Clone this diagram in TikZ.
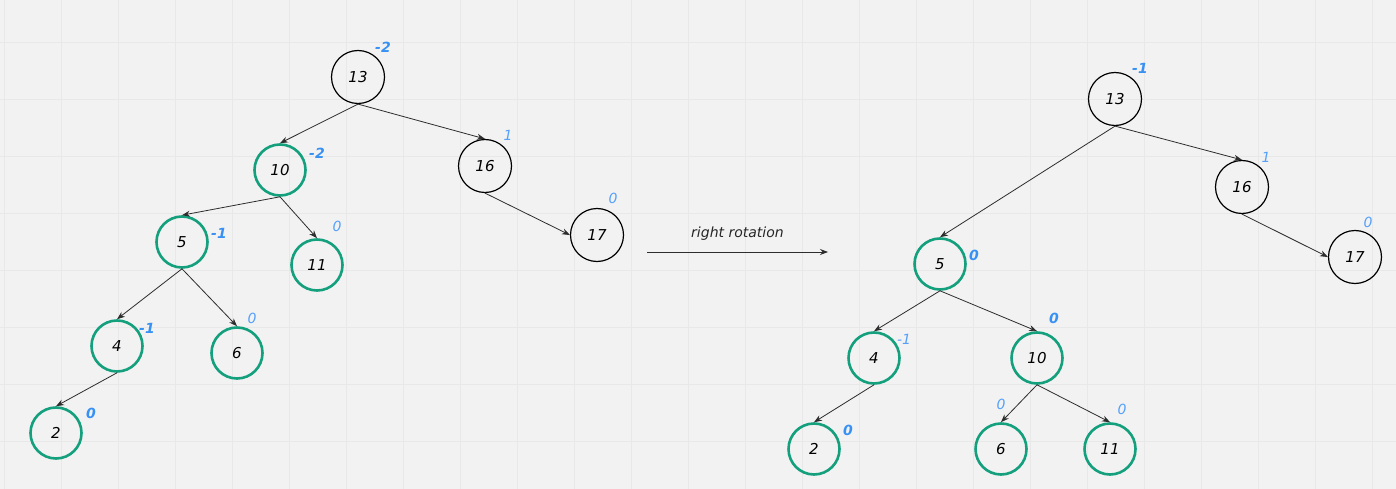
\documentclass[tikz,border=0pt]{standalone}
\usepackage{xcolor}
\usepackage{fontspec}
\setmainfont{DejaVu Sans}
\usepackage{tikz}
\usetikzlibrary{arrows.meta}
\definecolor{paper}{RGB}{242,242,242}
\definecolor{gridgray}{RGB}{232,232,232}
\definecolor{avlgreen}{RGB}{20,160,125}
\definecolor{balblue}{RGB}{55,145,245}
\definecolor{balblue2}{RGB}{85,160,250}
\definecolor{edgegray}{RGB}{45,45,45}

\begin{document}
\begin{tikzpicture}[x=1pt, y=-1pt,
    keynode/.style={draw=black, circle, line width=1.2pt, minimum size=53pt, inner sep=0pt,
        font=\fontsize{15}{17}\selectfont\itshape},
    greennode/.style={keynode, draw=avlgreen, line width=2.6pt, minimum size=51pt},
    bal/.style={text=balblue, font=\fontsize{14}{16}\selectfont\bfseries\itshape, inner sep=0pt},
    balthin/.style={text=balblue2, font=\fontsize{14}{16}\selectfont\itshape, inner sep=0pt},
    edge/.style={draw=edgegray, line width=0.8pt, -{Stealth[length=8pt,width=6pt]}}]
    % background and grid
    \fill[paper] (0,0) rectangle (1396,489);
    \useasboundingbox (0,0) rectangle (1396,489);
    \foreach \gx in {4,61,...,1396} \draw[gridgray, line width=0.8pt] (\gx,0) -- (\gx,489);
    \foreach \gy in {42.5,99.5,...,489} \draw[gridgray, line width=0.8pt] (0,\gy) -- (1396,\gy);

    % tree before the rotation
    \node[keynode] (l13) at (358,77) {13};
    \node[greennode] (l10) at (280,170) {10};
    \node[keynode] (l16) at (485,166) {16};
    \node[greennode] (l5) at (182,242) {5};
    \node[greennode] (l11) at (317,265) {11};
    \node[keynode] (l17) at (597,235) {17};
    \node[greennode] (l4) at (117,346) {4};
    \node[greennode] (l6) at (237,353) {6};
    \node[greennode] (l2) at (56,433) {2};

    \node[bal] (l13b) at (383,47) {-2};
    \node[bal] (l10b) at (317,153) {-2};
    \node[balthin] (l16b) at (508,135) {1};
    \node[bal] (l5b) at (219,233) {-1};
    \node[balthin] (l11b) at (337,226) {0};
    \node[balthin] (l17b) at (613,198) {0};
    \node[bal] (l4b) at (147,328) {-1};
    \node[balthin] (l6b) at (252,318) {0};
    \node[bal] (l2b) at (91,413) {0};

    \draw[edge] (l13.south) -- (l10.north);
    \draw[edge] (l13.south) -- (l16.north);
    \draw[edge] (l10.south) -- (l5.north);
    \draw[edge] (l10.south) -- (l11.north);
    \draw[edge] (l16.south) -- (l17.west);
    \draw[edge] (l5.south) -- (l4.north);
    \draw[edge] (l5.south) -- (l6.north);
    \draw[edge] (l4.south) -- (l2.north);

    % rotation arrow
    \coordinate (rotfrom) at (647,252);
    \coordinate (rotto) at (828,252);
    \draw[edge] (rotfrom) -- node[above=8pt, font=\fontsize{14}{16}\selectfont\itshape, text=black!85] (rotlabel) {right rotation} (rotto);

    % tree after the rotation
    \node[keynode] (r13) at (1115,99) {13};
    \node[keynode] (r16) at (1242,187) {16};
    \node[keynode] (r17) at (1355,257) {17};
    \node[greennode] (r5) at (940,264) {5};
    \node[greennode] (r4) at (874,358) {4};
    \node[greennode] (r10) at (1037,358) {10};
    \node[greennode] (r2) at (814,449) {2};
    \node[greennode] (r6) at (1001,449) {6};
    \node[greennode] (r11) at (1110,449) {11};

    \node[bal] (r13b) at (1140,68) {-1};
    \node[balthin] (r16b) at (1266,157) {1};
    \node[balthin] (r17b) at (1368,222) {0};
    \node[bal] (r5b) at (974,255) {0};
    \node[balthin] (r4b) at (904,339) {-1};
    \node[bal] (r10b) at (1054,318) {0};
    \node[bal] (r2b) at (848,430) {0};
    \node[balthin] (r6b) at (1001,404) {0};
    \node[balthin] (r11b) at (1122,409) {0};

    \draw[edge] (r13.south) -- (r5.north);
    \draw[edge] (r13.south) -- (r16.north);
    \draw[edge] (r16.south) -- (r17.west);
    \draw[edge] (r5.south) -- (r4.north);
    \draw[edge] (r5.south) -- (r10.north);
    \draw[edge] (r4.south) -- (r2.north);
    \draw[edge] (r10.south) -- (r6.north);
    \draw[edge] (r10.south) -- (r11.north);
\end{tikzpicture}
\end{document}
